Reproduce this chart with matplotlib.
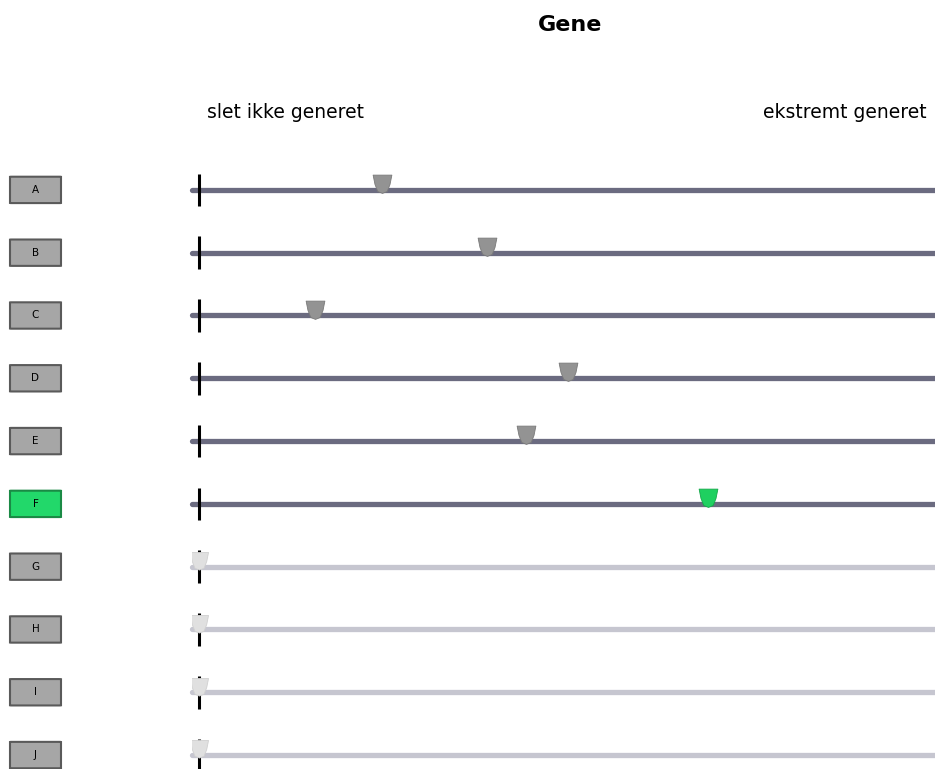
import numpy as np
import matplotlib
matplotlib.use("Agg")
from matplotlib import pyplot as plt
from matplotlib.patches import FancyBboxPatch
from matplotlib.path import Path
from matplotlib import transforms

# data
items = ["A", "B", "C", "D", "E", "F", "G", "H", "I", "J"]
values = [24.9, 39.1, 15.8, 50.1, 44.4, 69.2, 0, 0, 0, 0]
answered = [True, True, True, True, True, True, False, False, False, False]
highlight = "F"
left_label = "slet ikke generet"
right_label = "ekstremt generet"
title = "Gene"

W, H = 935, 769
fig = plt.figure(figsize=(W / 100, H / 100), dpi=100)
fig.patch.set_facecolor("white")

# slider area, 0 sits at x=199 px
ax = fig.add_axes([192 / W, 0, 1 - 192 / W, (769 - 158.5) / H])
ax.set_xlim(-0.95, 100)
ax.set_ylim(9.222, -0.5)
ax.axis("off")

# cup shaped marker (pointer)
cup = Path([(-1.0, 1.0), (1.0, 1.0), (0.8, 0.0), (0.5, -0.75), (0, -0.95),
            (-0.5, -0.75), (-0.8, 0.0), (-1.0, 1.0)],
           [Path.MOVETO] + [Path.LINETO] * 6 + [Path.CLOSEPOLY])

fig_x = transforms.blended_transform_factory(fig.transFigure, ax.transData)

for i, (name, v, done) in enumerate(zip(items, values, answered)):
    track = "#6b6b80" if done else "#c6c6d0"
    ax.plot([-0.95, 100], [i, i], color=track, lw=3.8, solid_capstyle="round",
            zorder=1, clip_on=False)
    ax.plot([0, 0], [i - 0.26, i + 0.26], color="black", lw=2.2, zorder=2,
            solid_capstyle="butt")
    if done:
        c = "#1fd060" if name == highlight else "#939393"
        ec = "#15a84a" if name == highlight else "#7a7a7a"
        ax.plot(v, i - 0.095, marker=cup, ms=13.5, color=c, mec=ec, mew=0.6,
                zorder=3)
    else:
        ax.plot(v, i - 0.09, marker=cup, ms=13, color="#e0e0e0",
                mec="#d0d0d0", mew=0.6, zorder=3)

    # item button
    face = "#22d86a" if name == highlight else "#a6a6a6"
    edge = "#1a8a45" if name == highlight else "#5a5a5a"
    btn = FancyBboxPatch((10 / W, i - 0.21), 51 / W, 0.42,
                         boxstyle="round,pad=0,rounding_size=0.002",
                         transform=fig_x, facecolor=face, edgecolor=edge,
                         lw=1.5, clip_on=False, zorder=2)
    ax.add_patch(btn)
    ax.text(35.5 / W, i, name, transform=fig_x, ha="center", va="center",
            fontsize=7.5, color="black", clip_on=False)

fig.text(570 / W, 1 - 25 / H, title, ha="center", va="center",
         fontsize=16, fontweight="bold")
fig.text(207 / W, 1 - 112 / H, left_label, ha="left", va="center", fontsize=13.5)
fig.text(927 / W, 1 - 112 / H, right_label, ha="right", va="center", fontsize=13.5)

fig.savefig("out.png", dpi=100, facecolor="white")
